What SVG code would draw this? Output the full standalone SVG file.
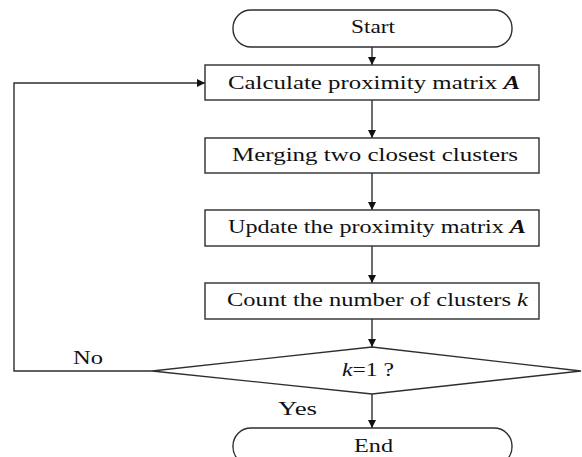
<svg xmlns="http://www.w3.org/2000/svg" width="582" height="457" viewBox="0 0 582 457">
  <style>
    .shape { fill: #ffffff; stroke: #2e2e2e; stroke-width: 1.4; }
    .wire { fill: none; stroke: #2e2e2e; stroke-width: 1.4; }
    .label { font-family: "Liberation Serif", "Times New Roman", serif; font-size: 19px; fill: #111111; }
    .it { font-style: italic; }
    .bi { font-style: italic; font-weight: bold; }
  </style>
  <defs>
    <marker id="arrow" markerUnits="userSpaceOnUse" markerWidth="9" markerHeight="9" refX="8" refY="4" orient="auto">
      <path d="M0,0 L8,4 L0,8 z" fill="#111111"/>
    </marker>
  </defs>

  <!-- connectors -->
  <g id="connectors">
    <line class="wire" x1="372" y1="47" x2="372" y2="65" marker-end="url(#arrow)"/>
    <line class="wire" x1="372" y1="100" x2="372" y2="138" marker-end="url(#arrow)"/>
    <line class="wire" x1="372" y1="173" x2="372" y2="210" marker-end="url(#arrow)"/>
    <line class="wire" x1="372" y1="246" x2="372" y2="283" marker-end="url(#arrow)"/>
    <line class="wire" x1="372" y1="319" x2="372" y2="347" marker-end="url(#arrow)"/>
    <line class="wire" x1="372" y1="394" x2="372" y2="428" marker-end="url(#arrow)"/>
    <polyline class="wire" points="152,371 14,371 14,83 205,83" marker-end="url(#arrow)"/>
    <text class="label" x="73" y="364" textLength="30" lengthAdjust="spacingAndGlyphs">No</text>
    <text class="label" x="278" y="415" textLength="39" lengthAdjust="spacingAndGlyphs">Yes</text>
  </g>

  <g id="start">
    <rect class="shape" x="233" y="10" width="279" height="37" rx="18" ry="18"/>
    <text class="label" x="351" y="33" textLength="44" lengthAdjust="spacingAndGlyphs">Start</text>
  </g>

  <g id="calculate">
    <rect class="shape" x="205" y="65" width="334" height="35"/>
    <text class="label" x="228" y="89" textLength="292" lengthAdjust="spacingAndGlyphs">Calculate proximity matrix <tspan class="bi">A</tspan></text>
  </g>

  <g id="merge">
    <rect class="shape" x="205" y="138" width="334" height="35"/>
    <text class="label" x="232" y="161" textLength="286" lengthAdjust="spacingAndGlyphs">Merging two closest clusters</text>
  </g>

  <g id="update">
    <rect class="shape" x="205" y="210" width="334" height="36"/>
    <text class="label" x="228" y="233" textLength="298" lengthAdjust="spacingAndGlyphs">Update the proximity matrix <tspan class="bi">A</tspan></text>
  </g>

  <g id="count">
    <rect class="shape" x="205" y="283" width="334" height="36"/>
    <text class="label" x="227" y="306" textLength="301" lengthAdjust="spacingAndGlyphs">Count the number of clusters <tspan class="it">k</tspan></text>
  </g>

  <g id="decision">
    <polygon class="shape" points="372,347 581,371 372,394 152,371"/>
    <text class="label" x="342" y="376" textLength="52" lengthAdjust="spacingAndGlyphs"><tspan class="it">k</tspan>=1 ?</text>
  </g>

  <g id="end">
    <rect class="shape" x="233" y="428" width="279" height="37" rx="18" ry="18"/>
    <text class="label" x="354" y="452" textLength="39" lengthAdjust="spacingAndGlyphs">End</text>
  </g>
</svg>
